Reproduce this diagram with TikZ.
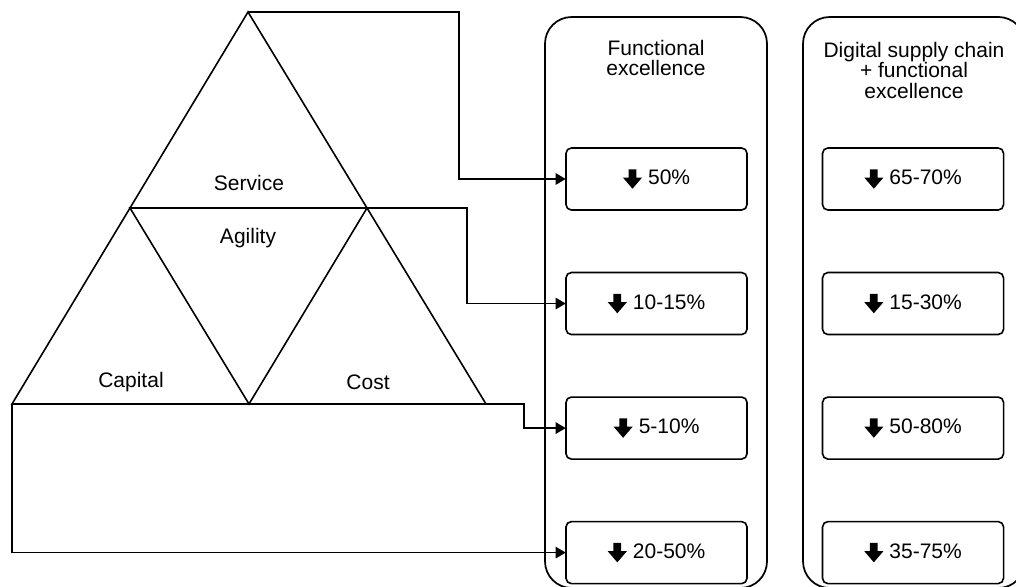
\documentclass[tikz,border=0pt]{standalone}
\usepackage{fontspec}
\setmainfont{Liberation Sans}
\usetikzlibrary{positioning,arrows.meta,calc}

% solid down arrow in front of each figure
\newcommand{\dnarr}{\tikz[baseline=0pt, sharp corners]\fill (-2.9pt,11.6pt) -- (2.9pt,11.6pt) -- (2.9pt,5.4pt)
  -- (7.2pt,5.4pt) -- (0pt,-3pt) -- (-7.2pt,5.4pt) -- (-2.9pt,5.4pt) -- cycle;}

\begin{document}
\begin{tikzpicture}[
    x=0.75pt, y=-0.75pt,
    font=\fontsize{15.75pt}{15.5pt}\selectfont,
    >={Triangle[length=7.5pt,width=8.5pt]},
    line width=1.2pt,
    node distance=46.5pt and 56.25pt,
    pct/.style   ={draw, rounded corners=4pt, inner sep=0pt,
                   minimum width=135.75pt, minimum height=46.5pt},
    lane/.style  ={draw, rounded corners=20pt, line width=1.3pt},
    title/.style ={align=center, inner sep=0pt, anchor=north},
    lbl/.style   ={inner sep=0pt, anchor=base},
    link/.style  ={->},
]
\useasboundingbox (0,0) rectangle (1016,586);

% ============================================================
% PYRAMID
% ============================================================
\coordinate (apex)   at (248,12);
\coordinate (bleft)  at (12,404);
\coordinate (bright) at (486,404);
\coordinate (lmid)   at ($(apex)!0.5!(bleft)$);
\coordinate (rmid)   at ($(apex)!0.5!(bright)$);
\coordinate (bmid)   at ($(bleft)!0.5!(bright)$);

\draw[line join=miter] (apex) -- (bright) -- (bleft) -- cycle;
\draw[line join=miter] (lmid) -- (rmid) -- (bmid) -- cycle;

\node[lbl] (service) at (249,190.5) {Service};
\node[lbl] (agility) at (248,243)   {Agility};
\node[lbl] (capital) at (131,387.5) {Capital};
\node[lbl] (cost)    at (368,389.5) {Cost};

% ============================================================
% LANES
% ============================================================
\draw[lane] (545,17) rectangle (767,588);
\draw[lane] (803,17) rectangle (1025,588);

\node[title] (t1) at (656,39) {Functional\\excellence};
\node[title] (t2) at (914,41) {Digital supply chain\\+ functional\\excellence};

% --- figures, functional excellence ---
\node[pct] at (656.5,179) (f1) {\dnarr\hspace{4.5pt}50\%};
\node[pct, below=of f1]   (f2) {\dnarr\hspace{4.5pt}10-15\%};
\node[pct, below=of f2]   (f3) {\dnarr\hspace{4.5pt}5-10\%};
\node[pct, below=of f3]   (f4) {\dnarr\hspace{4.5pt}20-50\%};

% --- figures, digital supply chain ---
\node[pct, right=of f1] (d1) {\dnarr\hspace{4.5pt}65-70\%};
\node[pct, right=of f2] (d2) {\dnarr\hspace{4.5pt}15-30\%};
\node[pct, right=of f3] (d3) {\dnarr\hspace{4.5pt}50-80\%};
\node[pct, right=of f4] (d4) {\dnarr\hspace{4.5pt}35-75\%};

% ============================================================
% CONNECTORS
% ============================================================
\draw[link] (apex)   -- ++(211,0) |- (f1.west);
\draw[link] (rmid)   -- ++(100,0) |- (f2.west);
\draw[link] (bright) -- ++(38,0)  |- (f3.west);
\draw[link] (bleft)  |- (f4.west);

\end{tikzpicture}
\end{document}
